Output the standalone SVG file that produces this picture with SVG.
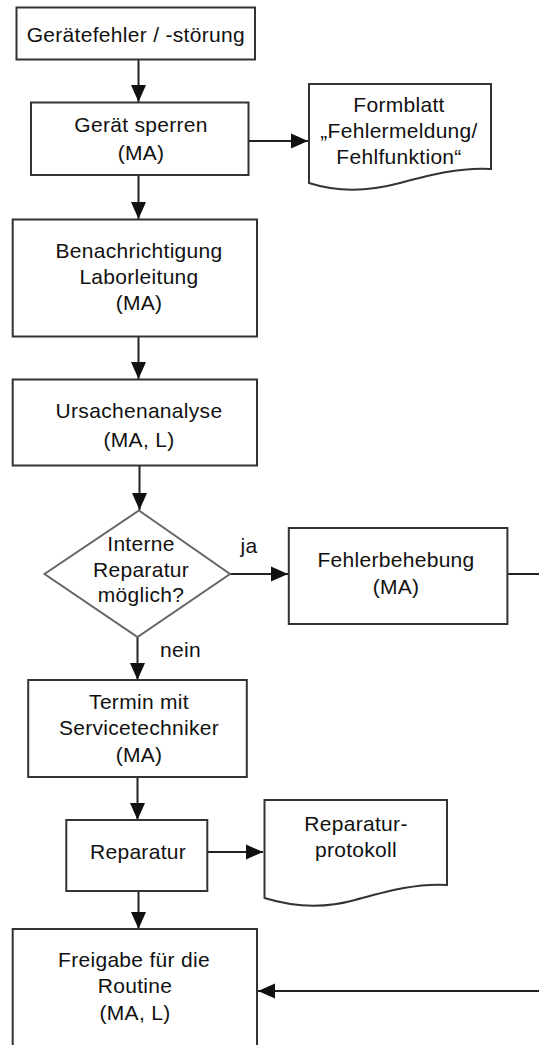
<svg xmlns="http://www.w3.org/2000/svg" width="539" height="1045" viewBox="0 0 539 1045">
<style>
.box{fill:#fff;stroke:#333;stroke-width:2}
.dia{fill:#fff;stroke:#666;stroke-width:2}
.doc{fill:#fff;stroke:#333;stroke-width:2}
.t{font-family:"Liberation Sans",Arial,sans-serif;font-size:21px;fill:#111;text-anchor:middle;letter-spacing:0.3px}
.l{font-family:"Liberation Sans",Arial,sans-serif;font-size:21px;fill:#111;letter-spacing:0.3px}
.c{fill:none;stroke:#222;stroke-width:2}
</style>
<defs>
<marker id="ah" markerUnits="userSpaceOnUse" markerWidth="18" markerHeight="16" refX="17" refY="8" orient="auto">
<path d="M0,0.5 L17,8 L0,15.5 Z" fill="#111"/>
</marker>
</defs>
<rect width="539" height="1045" fill="#fff"/>
<g id="connectors">
<path class="c" d="M138.5,60 V102" marker-end="url(#ah)"/>
<path class="c" d="M249,141 H308" marker-end="url(#ah)"/>
<path class="c" d="M138.5,176 V219" marker-end="url(#ah)"/>
<path class="c" d="M138.5,337 V379" marker-end="url(#ah)"/>
<path class="c" d="M139.5,466 V510" marker-end="url(#ah)"/>
<path class="c" d="M230,574 H288" marker-end="url(#ah)"/>
<path class="c" d="M137.5,637 V680" marker-end="url(#ah)"/>
<path class="c" d="M137.5,778 V820" marker-end="url(#ah)"/>
<path class="c" d="M205,852 H263" marker-end="url(#ah)"/>
<path class="c" d="M138.5,892 V929" marker-end="url(#ah)"/>
<path class="c" d="M503,574 H540"/>
<path class="c" d="M540,991 H258" marker-end="url(#ah)"/>
<text class="l" x="240.5" y="553">ja</text>
<text class="l" x="160" y="657">nein</text>
</g>
<g id="n1">
<rect class="box" x="16.5" y="7.5" width="238.5" height="52"/>
<text class="t" x="135.8" y="42">Gerätefehler / -störung</text>
</g>
<g id="n2">
<rect class="box" x="31" y="102.5" width="217.5" height="72.5"/>
<text class="t" x="141" y="132">Gerät sperren</text>
<text class="t" x="141" y="160">(MA)</text>
</g>
<g id="d1">
<path class="doc" d="M309,84 H491 V169 C460,167 430,175 400,183 C370,191 340,193 309,183 Z"/>
<text class="t" x="399" y="112">Formblatt</text>
<text class="t" x="399" y="138">„Fehlermeldung/</text>
<text class="t" x="399" y="164">Fehlfunktion“</text>
</g>
<g id="n3">
<rect class="box" x="12.7" y="219.5" width="244.3" height="117"/>
<text class="t" x="139" y="258">Benachrichtigung</text>
<text class="t" x="139" y="284">Laborleitung</text>
<text class="t" x="139" y="310">(MA)</text>
</g>
<g id="n4">
<rect class="box" x="12.7" y="379.5" width="244.3" height="86"/>
<text class="t" x="139" y="418">Ursachenanalyse</text>
<text class="t" x="139" y="447">(MA, L)</text>
</g>
<g id="q1">
<path class="dia" d="M139,510.5 L230,574 L137.5,637 L44.5,574 Z"/>
<text class="t" x="141" y="551">Interne</text>
<text class="t" x="141" y="577">Reparatur</text>
<text class="t" x="141" y="602">möglich?</text>
</g>
<g id="n5">
<rect class="box" x="288.8" y="528" width="218.6" height="96"/>
<text class="t" x="396" y="567">Fehlerbehebung</text>
<text class="t" x="396" y="594">(MA)</text>
</g>
<g id="n6">
<rect class="box" x="28.2" y="680" width="218.6" height="97"/>
<text class="t" x="139" y="709">Termin mit</text>
<text class="t" x="139" y="735">Servicetechniker</text>
<text class="t" x="139" y="762">(MA)</text>
</g>
<g id="n7">
<rect class="box" x="66.3" y="820" width="141" height="71"/>
<text class="t" x="138" y="859">Reparatur</text>
</g>
<g id="d2">
<path class="doc" d="M264.5,800 H447 V885 C415,883 385,892 355,900 C330,907 300,909 264.5,898 Z"/>
<text class="t" x="356" y="831">Reparatur-</text>
<text class="t" x="356" y="857">protokoll</text>
</g>
<g id="n8">
<rect class="box" x="12.7" y="929" width="244.3" height="130"/>
<text class="t" x="134" y="967">Freigabe für die</text>
<text class="t" x="135" y="993">Routine</text>
<text class="t" x="135" y="1020">(MA, L)</text>
</g>
</svg>
